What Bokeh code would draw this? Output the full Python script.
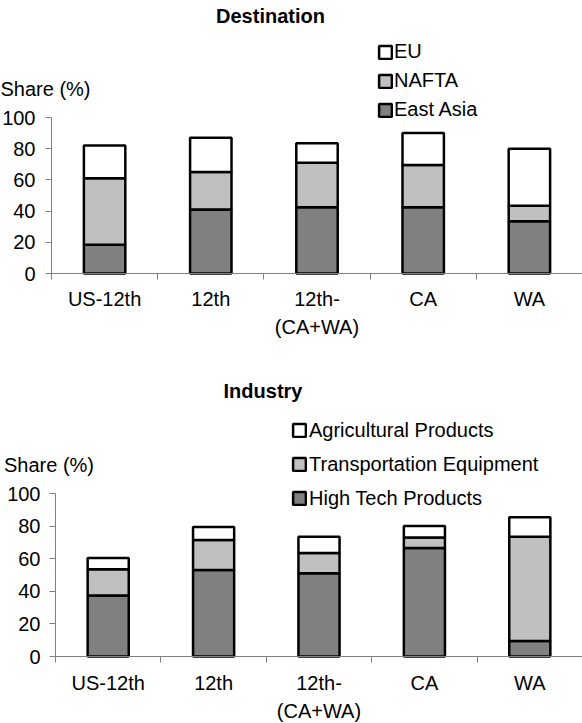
from bokeh.plotting import figure
from bokeh.models import Range1d, FixedTicker, Legend, LegendItem, Label, ColumnDataSource
from bokeh.layouts import column
from bokeh.embed import file_html
from bokeh.resources import INLINE

# ---- data ----
categories = ["US-12th", "12th", "12th-\n(CA+WA)", "CA", "WA"]

dest_series = ["East Asia", "NAFTA", "EU"]
dest_east_asia = [18.5, 41, 42.5, 42.5, 33.5]
dest_nafta = [42.5, 24, 28.5, 27, 10]
dest_eu = [21, 22, 12.5, 20.5, 36.5]

ind_series = ["High Tech Products", "Transportation Equipment", "Agricultural Products"]
ind_high_tech = [37.5, 53, 51, 66.5, 9.5]
ind_transport = [16, 18.5, 12.5, 6.5, 64]
ind_agri = [7, 8, 10, 7, 12]

y_ticks = [0, 20, 40, 60, 80, 100]

colors = ["#808080", "#c0c0c0", "#ffffff"]
FONT = "Liberation Sans"
FS = "20px"
W = 582


def make_chart(title, series, values, H, axis_left, y0_px, y100_px,
               x_standoff, y_standoff, title_px, share_px,
               legend_px, legend_spacing, legend_standoff):
    n = len(categories)
    ux = (W - axis_left) / n          # px per category
    uy = (y0_px - y100_px) / 100.0    # px per percent
    x_range = Range1d(-axis_left / ux, (W - axis_left) / ux)
    y_range = Range1d(-(H - y0_px) / uy, y0_px / uy)

    p = figure(width=W, height=H, output_backend="svg", toolbar_location=None,
               x_range=x_range, y_range=y_range,
               min_border=0, min_border_left=0, min_border_right=0,
               min_border_top=0, min_border_bottom=0)
    p.outline_line_color = None
    p.grid.visible = False
    p.background_fill_color = "white"
    p.border_fill_color = "white"

    xs = [i + 0.5 for i in range(n)]
    data = {"x": xs}
    for name, vals in zip(series, values):
        data[name] = vals
    src = ColumnDataSource(data)
    rends = p.vbar_stack(series, x="x", width=0.39, source=src,
                         fill_color=colors, line_color="black", line_width=2.5)

    # x axis at y = 0
    xa = p.xaxis[0]
    xa.fixed_location = 0
    xa.bounds = (0, n)
    xa.ticker = FixedTicker(ticks=xs, minor_ticks=list(range(n + 1)))
    xa.major_label_overrides = {x: c for x, c in zip(xs, categories)}
    xa.major_tick_out = 0
    xa.major_tick_in = 0
    xa.minor_tick_out = 6
    xa.minor_tick_in = 0
    xa.axis_line_color = "#808080"
    xa.minor_tick_line_color = "#808080"
    xa.major_label_standoff = x_standoff
    xa.major_label_text_font = FONT
    xa.major_label_text_font_size = FS
    xa.major_label_text_color = "black"
    xa.major_label_text_line_height = 1.3

    # y axis at x = 0
    ya = p.yaxis[0]
    ya.fixed_location = 0
    ya.bounds = (0, 100)
    ya.ticker = FixedTicker(ticks=y_ticks, minor_ticks=[])
    ya.major_tick_out = 6
    ya.major_tick_in = 0
    ya.minor_tick_out = 0
    ya.minor_tick_in = 0
    ya.axis_line_color = "#808080"
    ya.major_tick_line_color = "#808080"
    ya.major_label_standoff = y_standoff
    ya.major_label_text_font = FONT
    ya.major_label_text_font_size = FS
    ya.major_label_text_color = "black"

    def dx(px):
        return (px - axis_left) / ux

    def dy(py):
        return (y0_px - py) / uy

    p.add_layout(Label(x=dx(title_px[0]), y=dy(title_px[1]), text=title,
                       text_font=FONT, text_font_size=FS, text_font_style="bold",
                       text_color="black",
                       text_align="center", text_baseline="middle"))
    p.add_layout(Label(x=dx(share_px[0]), y=dy(share_px[1]), text="Share (%)",
                       text_font=FONT, text_font_size=FS, text_color="black",
                       text_align="left", text_baseline="middle"))

    items = [LegendItem(label=nm, renderers=[r]) for nm, r in zip(series, rends)][::-1]
    leg = Legend(items=items, location=(legend_px[0], H - legend_px[1]),
                 padding=0, margin=0, spacing=legend_spacing,
                 border_line_color=None, background_fill_alpha=0,
                 glyph_width=16, glyph_height=16,
                 label_standoff=legend_standoff, label_text_font=FONT,
                 label_text_font_size=FS, label_text_color="black",
                 label_height=20)
    p.add_layout(leg)
    return p


# top chart (canvas == page, origin 0,0)
p1 = make_chart("Destination", dest_series, [dest_east_asia, dest_nafta, dest_eu],
                H=350, axis_left=51, y0_px=273, y100_px=117,
                x_standoff=8, y_standoff=10,
                title_px=(270, 15), share_px=(0, 88),
                legend_px=(377, 121), legend_spacing=6, legend_standoff=1)

# bottom chart (page y offset 350)
p2 = make_chart("Industry", ind_series, [ind_high_tech, ind_transport, ind_agri],
                H=373, axis_left=55, y0_px=306, y100_px=143,
                x_standoff=9, y_standoff=9,
                title_px=(262.5, 40), share_px=(3.5, 114),
                legend_px=(291, 159.5), legend_spacing=11, legend_standoff=2)

layout = column(p1, p2, spacing=0)
open("out.html", "w").write(file_html(layout, INLINE))
